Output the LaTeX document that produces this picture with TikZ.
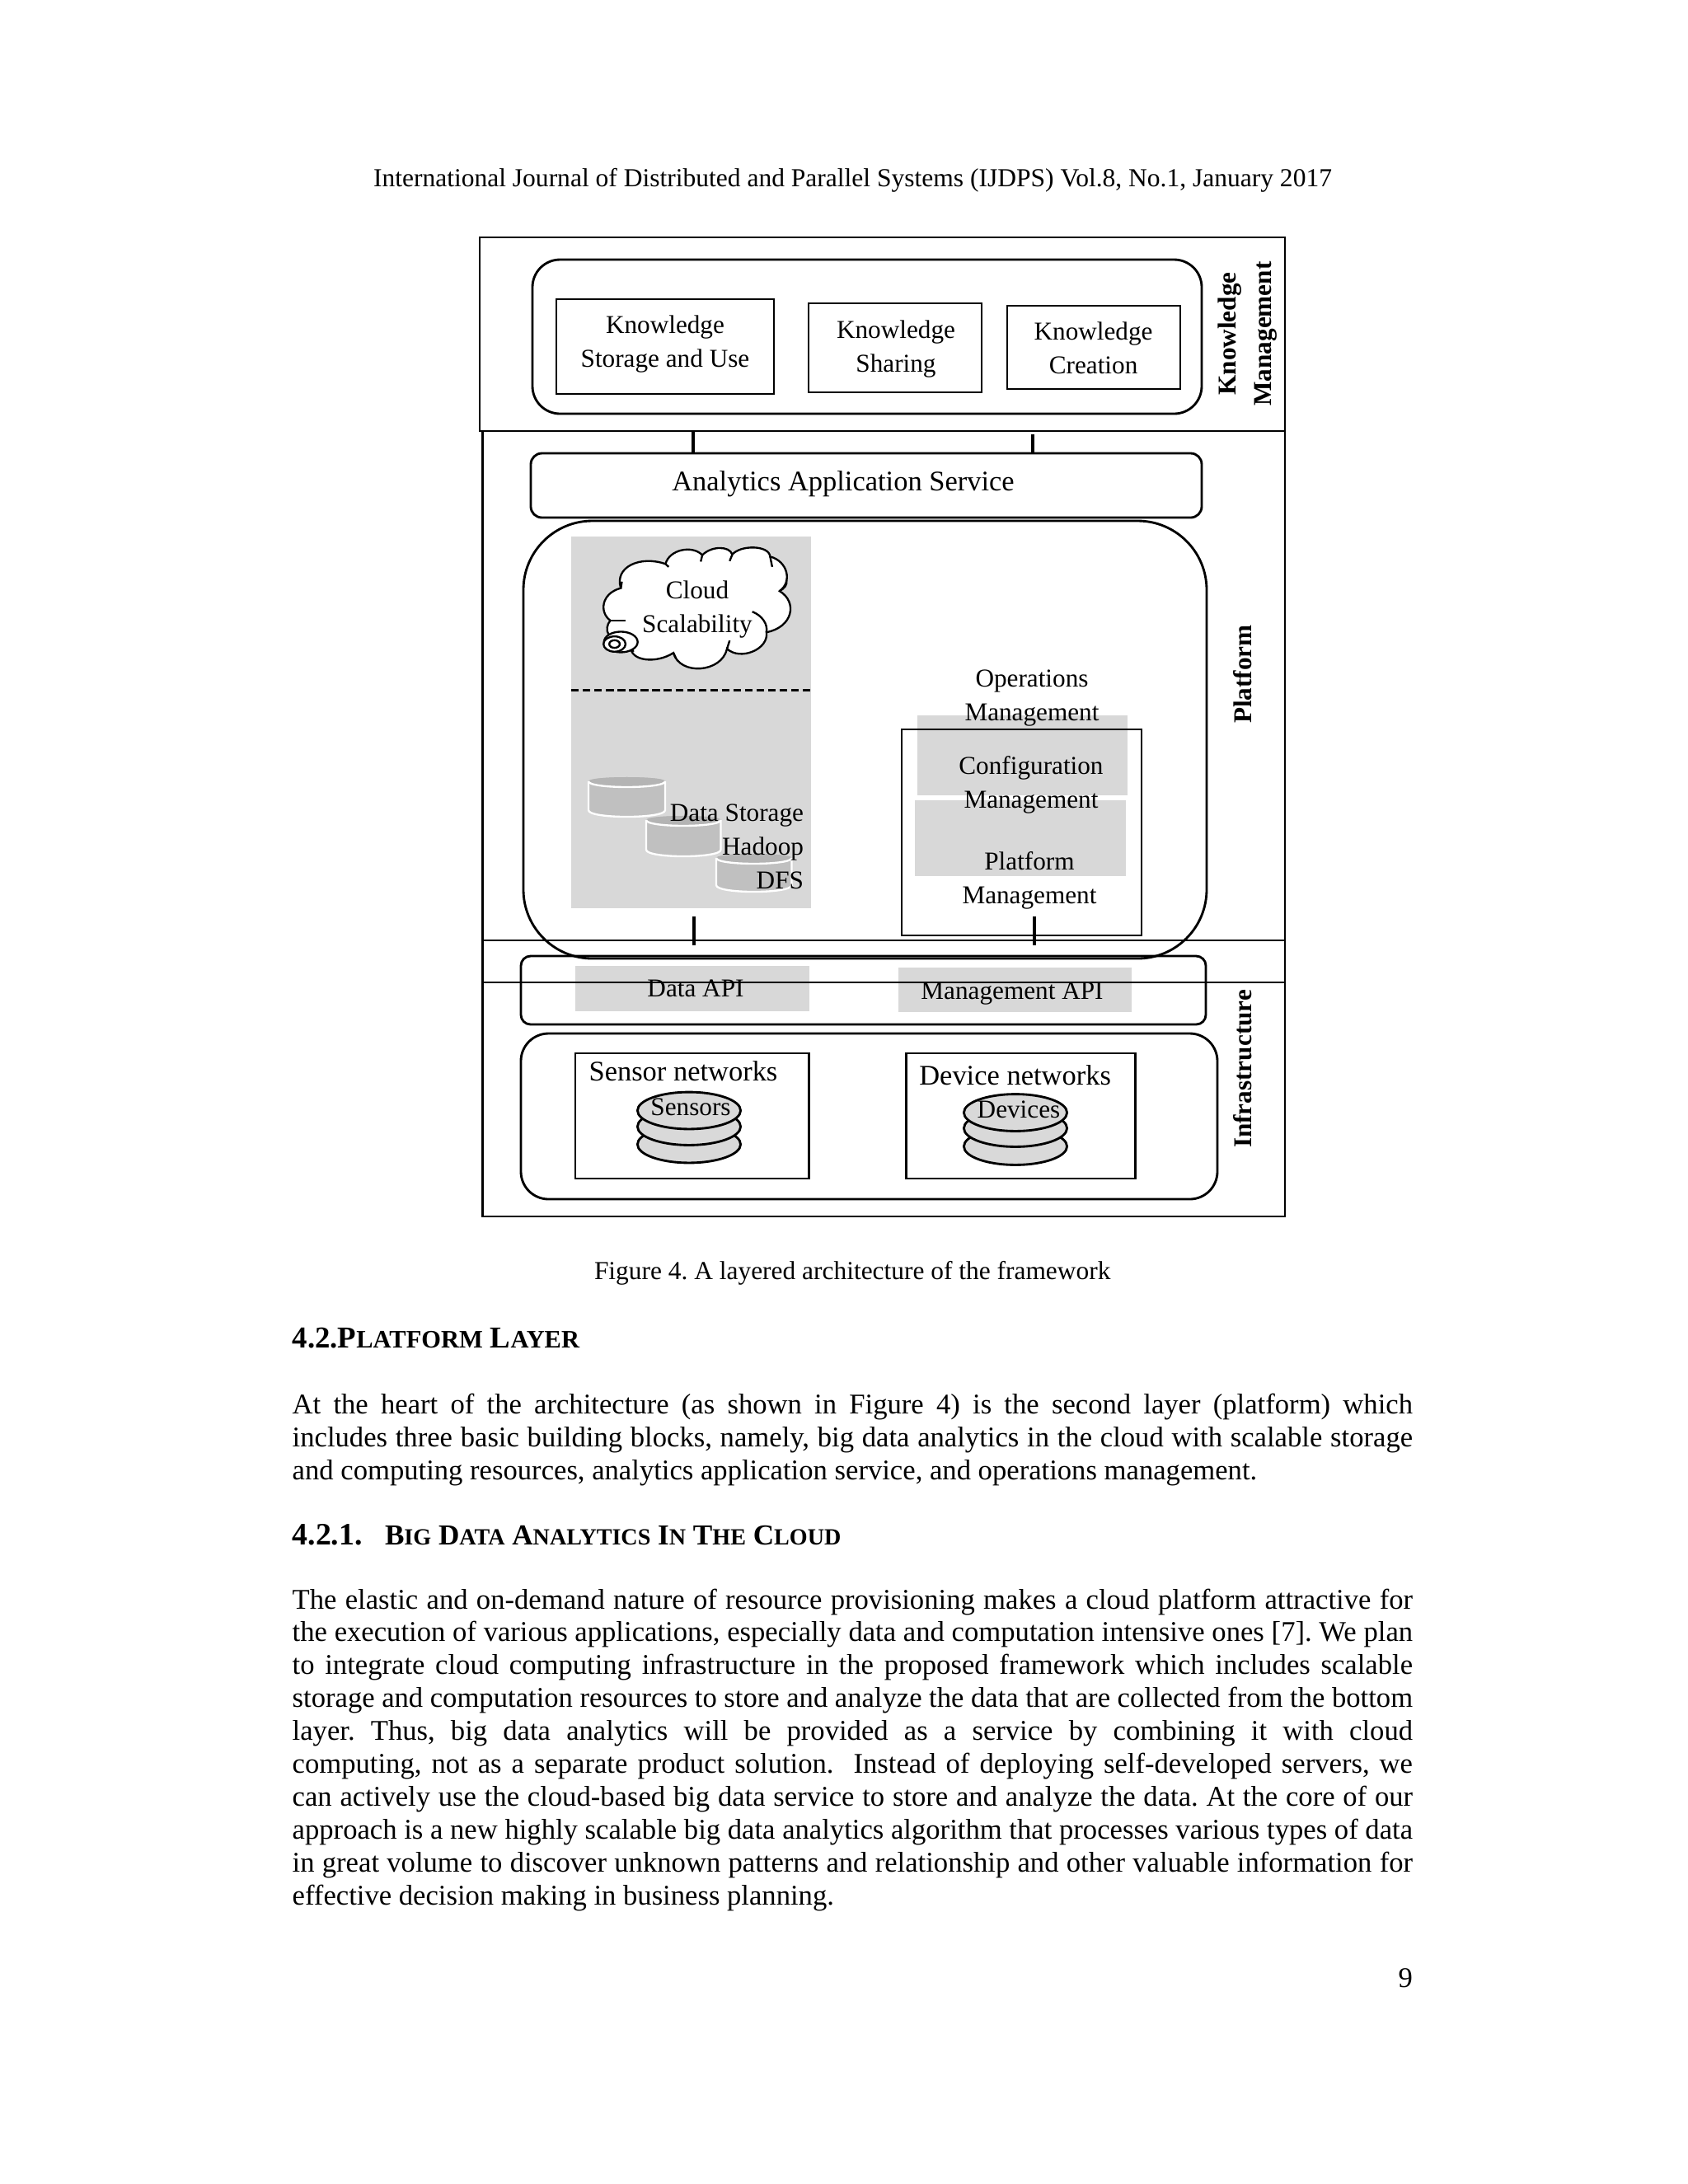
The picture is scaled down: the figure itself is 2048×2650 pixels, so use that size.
\documentclass[tikz,border=0pt]{standalone}
\usepackage{fontspec}
\setmainfont{Liberation Serif}
\usetikzlibrary{shapes.geometric}
\newcommand{\ftxt}{\fontsize{9.33}{12.2}\selectfont}
\newcommand{\fbig}{\fontsize{10.3}{12.3}\selectfont}
\newcommand{\fbod}{\fontsize{10.35}{11.86}\selectfont}
\newcommand{\fcap}{\fontsize{9.39}{11.86}\selectfont}
\newcommand{\fhead}{\fontsize{9.42}{11.86}\selectfont}
\newcommand{\fside}{\fontsize{9.33}{12.85}\selectfont\bfseries}
\newcommand{\hsc}[2]{#1{\fontsize{9.1}{10}\selectfont #2}}
\newcommand{\hscb}[2]{#1{\fontsize{8.4}{10}\selectfont #2}}
\tikzset{
  x=0.29883pt,y=-0.29883pt,
  boxline/.style={draw=black,line width=0.85pt,inner sep=0pt,outer sep=0pt,anchor=north west},
  layerbox/.style={boxline},
  round1/.style={boxline,rounded corners=10pt},
  round2/.style={boxline,rounded corners=4pt},
  round3/.style={boxline,rounded corners=25pt},
  graypanel/.style={fill=panelgray,draw=none,inner sep=0pt,outer sep=0pt,anchor=north west},
  lab/.style={inner sep=0pt,outer sep=0pt,align=center,anchor=base,font=\ftxt},
  labbig/.style={lab,font=\fbig},
  side/.style={inner sep=0pt,outer sep=0pt,align=center,anchor=base,rotate=90,font=\fside},
  pagetext/.style={inner sep=0pt,outer sep=0pt,anchor=base west,font=\fbod},
  captext/.style={pagetext,font=\fcap},
  headtext/.style={pagetext,font=\fhead},
  tick/.style={draw=black,line width=1.2pt},
  disc/.style={ellipse,draw=black,fill=discgray,line width=0.85pt,inner sep=0pt,outer sep=0pt},
}
\definecolor{panelgray}{HTML}{D8D8D8}
\definecolor{discgray}{HTML}{D9D9D9}
\definecolor{cylgray}{HTML}{C0C0C0}
\definecolor{cyltop}{HTML}{B4B4B4}
% #1 name, #2 x1, #3 y1, #4 x2, #5 y2, #6 style
\newcommand{\rbox}[6]{\node[#6,minimum width={(#4-#2)*0.29883pt},minimum height={(#5-#3)*0.29883pt}] (#1) at (#2,#3) {};}
\newcommand{\cyl}[4]{%
  \fill[cylgray] (#1,#2+5) .. controls (#1,#2-1.7) and (#3,#2-1.7) .. (#3,#2+5) -- (#3,#4-8)
     .. controls (#3,#4+2.7) and (#1,#4+2.7) .. (#1,#4-8) -- cycle;
  \fill[cyltop] (#1,#2+5) .. controls (#1,#2-1.7) and (#3,#2-1.7) .. (#3,#2+5)
     .. controls (#3,#2+14.3) and (#1,#2+14.3) .. (#1,#2+5) -- cycle;
  \draw[white,line width=0.7pt] (#1,#2+5) .. controls (#1,#2+14.3) and (#3,#2+14.3) .. (#3,#2+5);
  \draw[white,line width=0.7pt] (#1,#2+5) -- (#1,#4-8) .. controls (#1,#4+2.7) and (#3,#4+2.7) .. (#3,#4-8) -- (#3,#2+5);
}
\newcommand{\bline}[2]{\node[pagetext] at (354.7,#1) {\makebox[406.2pt][s]{#2}};}
\begin{document}
\frenchspacing
\begin{tikzpicture}
\useasboundingbox (0,0) rectangle (2048,2650);
\fill[white] (0,0) rectangle (2048,2650);

% header
\node[headtext] (header) at (453,226) {International Journal of Distributed and Parallel Systems (IJDPS) Vol.8, No.1, January 2017};

% gray panels
\rbox{panel}{693}{651}{983.5}{1102}{graypanel}
\rbox{gconfig}{1113}{868}{1368}{965}{graypanel}
\rbox{gplatform}{1110}{971}{1365.5}{1063}{graypanel}
\rbox{gdata}{698}{1172}{981.5}{1227}{graypanel}
\rbox{gmgmt}{1090}{1174}{1373}{1228}{graypanel}

% layers
\rbox{kmlayer}{582}{288}{1559}{523}{layerbox}
\rbox{pflayer}{585.5}{523}{1559}{1141}{layerbox}
\rbox{midband}{585.5}{1141}{1559}{1192}{layerbox}
\rbox{inflayer}{585.5}{1192}{1559}{1476}{layerbox}

% knowledge
\rbox{kmround}{646}{315}{1458}{502}{round1}
\rbox{k1}{675}{363}{939}{478}{boxline}
\rbox{k2}{981}{368}{1191}{476}{boxline}
\rbox{k3}{1222}{371}{1432}{472}{boxline}
\node[lab] (k1t) at (807,445) {Knowledge\\Storage and Use};
\node[lab] (k2t) at (1087,451.5) {Knowledge\\Sharing};
\node[lab] (k3t) at (1326.6,453.5) {Knowledge\\Creation};

% analytics
\rbox{analytics}{644}{550}{1458}{628}{round2}
\node[labbig] (ant) at (1023,595) {Analytics Application Service};
\coordinate (t1) at (841,523);
\coordinate (t2) at (1253,527);
\draw[tick] (t1) -- (t1 |- analytics.north);
\draw[tick] (t2) -- (t2 |- analytics.north);

% big rounded
\rbox{biground}{635}{632}{1464}{1163}{round3}

% cloud
\begin{scope}[shift={(560,620)},x=0.19058pt,y=-0.10673pt,line width=0.7pt]
  \draw[fill=white] (303,262) .. controls (290,190) and (340,150) .. (388,180)
    .. controls (395,130) and (440,115) .. (458,150)
    .. controls (475,118) and (510,118) .. (515,148)
    .. controls (530,115) and (585,115) .. (587,155)
    .. controls (620,170) and (630,240) .. (605,272)
    .. controls (640,310) and (630,395) .. (580,412)
    .. controls (585,470) and (530,510) .. (505,468)
    .. controls (495,550) and (415,560) .. (403,482)
    .. controls (370,520) and (320,510) .. (322,460)
    .. controls (275,445) and (270,400) .. (283,372)
    .. controls (262,345) and (265,280) .. (303,262) -- cycle;
  \draw (303,262) -- (305,240);
  \draw (388,180) -- (394,190);
  \draw (458,150) -- (455,172);
  \draw (515,148) -- (510,170);
  \draw (587,155) -- (591,190);
  \draw (605,272) .. controls (615,262) and (620,250) .. (618,235);
  \draw (580,412) .. controls (583,385) and (572,355) .. (553,342);
  \draw (505,468) -- (510,440);
  \draw (403,482) -- (408,500);
  \draw (322,460) -- (327,478);
  \draw (283,372) -- (312,372);
  \draw[fill=white] (303,445) ellipse [x radius=32,y radius=35];
  \draw[fill=white] (291,452) ellipse [x radius=21,y radius=26];
  \draw[fill=white] (291,452) ellipse [x radius=10,y radius=13];
\end{scope}
\node[lab] (cloudt) at (846,767.5) {Cloud\\Scalability};

% dashed divider
\coordinate (d1) at (693,837);
\coordinate (d2) at (983.5,837);
\draw[line width=0.9pt,dash pattern=on 2.8pt off 1.4pt] (d1) -- (d2);

% cylinders
\cyl{714}{943}{807}{991}
\cyl{784}{990}{874.5}{1039}
\cyl{869}{1036}{960.5}{1082}
\node[lab,align=right,anchor=base east] (dst) at (975,1078) {Data Storage\\Hadoop\\DFS};

% operations
\node[lab] (opst) at (1252,874) {Operations\\Management};
\rbox{opsbox}{1094}{885}{1385}{1135}{boxline}
\node[lab] (cfgt) at (1251,980) {Configuration\\Management};
\node[lab] (plft) at (1249,1096) {Platform\\Management};
\coordinate (t3) at (842,1112);
\coordinate (t4) at (1255,1112);
\draw[tick] (t3) -- ++(0,35);
\draw[tick] (t4) -- ++(0,35);

% API
\rbox{api}{632}{1160}{1463}{1243}{boxline,rounded corners=3.5pt}
\node[lab] (dapi) at (844,1209) {Data API};
\node[lab] (mapi) at (1228,1212) {Management API};

% infrastructure
\rbox{infra}{632}{1254}{1477}{1455}{round1}
\rbox{snet}{698}{1278}{981.5}{1430}{boxline}
\rbox{dnet}{1099.5}{1278}{1377.6}{1430}{boxline}
\node[labbig] (snt) at (829,1311) {Sensor networks};
\node[labbig] (dnt) at (1231.6,1316) {Device networks};
\node[disc,minimum width=37.4pt,minimum height=13.4pt] (s3) at (836,1388.5) {};
\node[disc,minimum width=37.4pt,minimum height=13.4pt] (s2) at (836,1367) {};
\node[disc,minimum width=37.4pt,minimum height=13.4pt] (s1) at (836,1347.5) {};
\node[disc,minimum width=37.4pt,minimum height=13.4pt] (d3) at (1232,1391) {};
\node[disc,minimum width=37.4pt,minimum height=13.4pt] (d2b) at (1232,1369) {};
\node[disc,minimum width=37.4pt,minimum height=13.4pt] (d1b) at (1232,1350) {};
\node[lab] (st) at (838,1353) {Sensors};
\node[lab] (dt) at (1236,1356) {Devices};

% side labels
\node[side] (kmside) at (1542,405) {Knowledge\\Management};
\node[side] (pfside) at (1518,818) {Platform};
\node[side] (infside) at (1518,1297) {Infrastructure};

% page text
\node[captext] (caption) at (721,1552) {Figure 4. A layered architecture of the framework};
\node[pagetext,font=\fontsize{11}{12}\selectfont\bfseries] (h1) at (354.7,1635) {4.2.\hsc{P}{LATFORM} \hsc{L}{AYER}};
\bline{1715}{At the heart of the architecture (as shown in Figure 4) is the second layer (platform) which}
\bline{1755}{includes three basic building blocks, namely, big data analytics in the cloud with scalable storage}
\node[pagetext] (p13) at (354.7,1795) {and computing resources, analytics application service, and operations management.};
\node[pagetext,font=\fontsize{11.3}{12}\selectfont\bfseries] (h2n) at (354.7,1874) {4.2.1.};
\node[pagetext,font=\fontsize{10.5}{12}\selectfont\bfseries] (h2) at (467,1874) {\hscb{B}{IG} \hscb{D}{ATA} \hscb{A}{NALYTICS} \hscb{I}{N} \hscb{T}{HE} \hscb{C}{LOUD}};
\bline{1952}{The elastic and on-demand nature of resource provisioning makes a cloud platform attractive for}
\bline{1991.9}{the execution of various applications, especially data and computation intensive ones [7]. We plan}
\bline{2031.8}{to integrate cloud computing infrastructure in the proposed framework which includes scalable}
\bline{2071.7}{storage and computation resources to store and analyze the data that are collected from the bottom}
\bline{2111.6}{layer. Thus, big data analytics will be provided as a service by combining it with cloud}
\bline{2151.5}{computing, not as a separate product solution.\ \ Instead of deploying self-developed servers, we}
\bline{2191.4}{can actively use the cloud-based big data service to store and analyze the data. At the core of our}
\bline{2231.3}{approach is a new highly scalable big data analytics algorithm that processes various types of data}
\bline{2271.2}{in great volume to discover unknown patterns and relationship and other valuable information for}
\node[pagetext] (p210) at (354.7,2311) {effective decision making in business planning.};
\node[pagetext,anchor=base east] (pg) at (1714,2411) {9};
\end{tikzpicture}
\end{document}
